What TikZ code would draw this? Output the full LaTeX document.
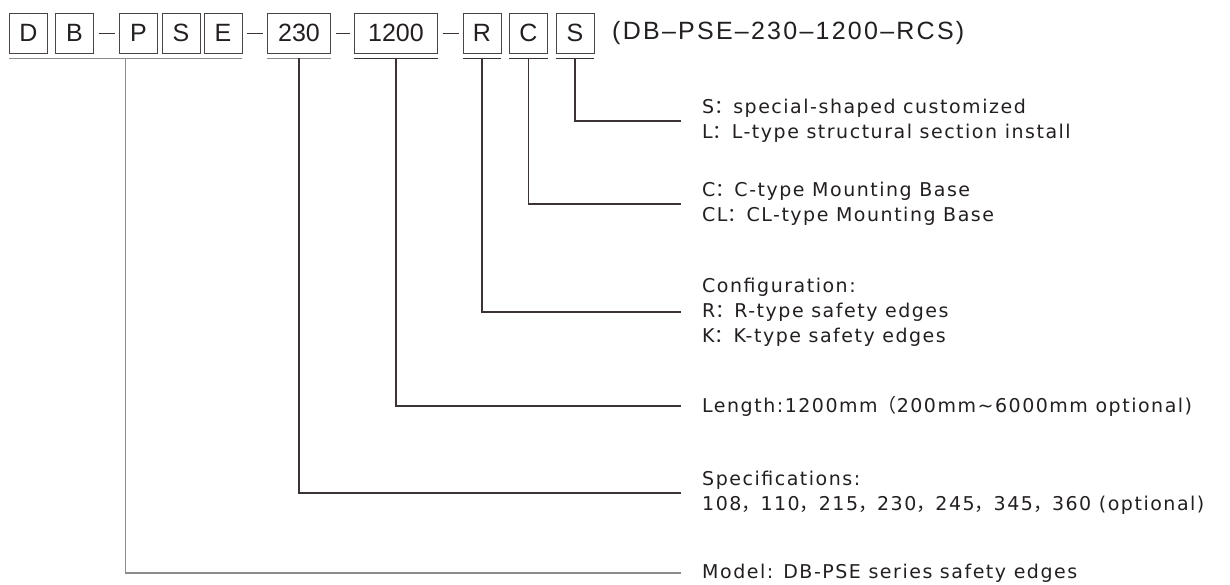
\documentclass[tikz,border=0pt]{standalone}
\usepackage{fontspec}
\setmainfont{Liberation Sans}
\newfontfamily\titlefont[LetterSpace=9]{Liberation Sans}
\newfontfamily\descfont[LetterSpace=8]{DejaVu Sans}
\newfontfamily\cjk{Noto Sans CJK SC}
\usetikzlibrary{positioning}
\pgfdeclarelayer{edgelayer}
\pgfdeclarelayer{nodelayer}
\pgfsetlayers{edgelayer,nodelayer,main}
\definecolor{boxline}{HTML}{4A4444}
\definecolor{leadgray}{HTML}{8C8C8C}
\definecolor{leaddark}{HTML}{3C3434}
\definecolor{textdark}{HTML}{231F20}
\newcommand{\fcolon}{{\cjk ：}}
\newcommand{\fcomma}{{\cjk ，}}
\newcommand{\fparen}{{\cjk （}}
\tikzstyle{letter}=[draw=boxline,line width=0.9pt,minimum height=40pt,minimum width=38pt,inner sep=0pt,text=textdark,font=\fontsize{25}{30}\selectfont]
\tikzstyle{title}=[inner sep=0pt,anchor=west,text=textdark,font=\titlefont\fontsize{25}{30}\selectfont]
\tikzstyle{desc}=[inner sep=0pt,anchor=west,align=left,text=textdark,font=\descfont\fontsize{19}{25}\selectfont]
\tikzstyle{joiner}=[draw=leaddark,line width=0.9pt,shorten <=5pt,shorten >=4pt]
\tikzstyle{underline}=[draw=leaddark,line width=1.6pt]
\tikzstyle{lead}=[draw=leaddark,line width=1.3pt]

\begin{document}
\begin{tikzpicture}[x=1pt,y=1pt]
	\useasboundingbox (0,0) rectangle (1230,-585);
	\begin{pgfonlayer}{nodelayer}
		\node [style=letter] (0) at (28.5, -33) {D};
		\node [style=letter] (1) at (74.5, -33) {B};
		\node [style=letter] (2) at (138.5, -33) {P};
		\node [style=letter] (3) at (181, -33) {S};
		\node [style=letter] (4) at (223, -33) {E};
		\node [style=letter, minimum width=63pt] (5) at (299, -33) {230};
		\node [style=letter, minimum width=83pt] (6) at (396, -33) {1200};
		\node [style=letter] (7) at (482, -33) {R};
		\node [style=letter] (8) at (528.5, -33) {C};
		\node [style=letter] (9) at (575, -33) {S};
		\node [style=title] (10) at (612, -33) {(DB–PSE–230–1200–RCS)};
		\node [style=desc] (11) at (702, -121) {S\fcolon special-shaped customized\\L\fcolon L-type structural section install};
		\node [style=desc] (12) at (702, -204) {C\fcolon C-type Mounting Base\\CL\fcolon CL-type Mounting Base};
		\node [style=desc] (13) at (702, -312) {Configuration:\\R\fcolon R-type safety edges\\K\fcolon K-type safety edges};
		\node [style=desc] (14) at (702, -406) {Length:1200mm\fparen 200mm\char`~6000mm optional)};
		\node [style=desc] (15) at (702, -493) {Specifications:\\108\fcomma 110\fcomma 215\fcomma 230\fcomma 245\fcomma 345\fcomma 360 (optional)};
		\node [style=desc] (16) at (702, -573) {Model: DB-PSE series safety edges};
	\end{pgfonlayer}
	\begin{pgfonlayer}{edgelayer}
		% dashes between the groups
		\draw [style=joiner] (1) to (2);
		\draw [style=joiner] (4) to (5);
		\draw [style=joiner] (5) to (6);
		\draw [style=joiner] (6) to (7);
		% underlines
		\draw [style=underline, draw=leadgray] ([yshift=-5pt]0.south west) to node[coordinate, midway] (20) {} ([yshift=-5pt]4.south east);
		\draw [style=underline, draw=leadgray] ([yshift=-5pt]5.south west) to node[coordinate, midway] (21) {} ([yshift=-5pt]5.south east);
		\draw [style=underline] ([yshift=-5pt]6.south west) to node[coordinate, midway] (22) {} ([yshift=-5pt]6.south east);
		\draw [style=underline] ([yshift=-5pt]7.south west) to node[coordinate, midway] (23) {} ([yshift=-5pt]7.south east);
		\draw [style=underline] ([yshift=-5pt]8.south west) to node[coordinate, midway] (24) {} ([yshift=-5pt]8.south east);
		\draw [style=underline] ([yshift=-5pt]9.south west) to node[coordinate, midway] (25) {} ([yshift=-5pt]9.south east);
		% leads to the texts
		\draw [style=lead] (25) |- ([xshift=-21pt]11.west);
		\draw [style=lead] (24) |- ([xshift=-21pt]12.west);
		\draw [style=lead] (23) |- ([xshift=-21pt]13.west);
		\draw [style=lead] (22) |- ([xshift=-21pt]14.west);
		\draw [style=lead] (21) |- ([xshift=-21pt]15.west);
		\draw [style=lead, draw=leadgray] (20) |- ([xshift=-21pt]16.west);
	\end{pgfonlayer}
\end{tikzpicture}
\end{document}
